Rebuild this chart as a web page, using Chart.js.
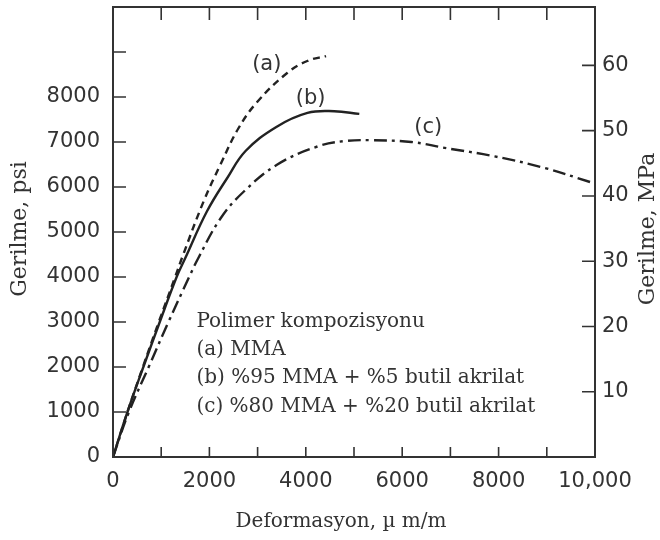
<!DOCTYPE html>
<html>
<head>
<meta charset="utf-8">
<script src="https://cdn.jsdelivr.net/npm/chart.js@4.4.1/dist/chart.umd.min.js"></script>
<style>
  body { margin: 0; background: #fff; }
  #wrap { width: 660px; height: 540px; }
</style>
</head>
<body>
<div id="wrap"><canvas id="grafico" width="660" height="540"></canvas></div>
<script>
// deformasyon (µm/m) ve gerilme (psi) okumaları
const strainA = [0, 300, 620, 950, 1290, 1440, 1880, 2230, 2600, 3000, 3620, 4030, 4420];
const stressA = [0, 1000, 2000, 3000, 4000, 4450, 5680, 6500, 7300, 7900, 8540, 8800, 8910];

const strainB = [0, 300, 630, 970, 1320, 1500, 1950, 2370, 2750, 3380, 4035, 4590, 5110];
const stressB = [0, 1000, 2000, 3000, 4000, 4420, 5460, 6200, 6800, 7330, 7646, 7684, 7624];

const strainC = [0, 330, 740, 1150, 1580, 1760, 2230, 2715, 3410, 4240, 4800, 5350, 6190, 6880, 7920, 8965, 9900];
const stressC = [0, 1000, 2000, 3000, 4000, 4400, 5300, 5900, 6500, 6900, 7020, 7040, 7000, 6870, 6680, 6420, 6110];

const curveNames = ['(a)', '(b)', '(c)'];
const legendLines = [
  'Polimer kompozisyonu',
  '(a) MMA',
  '(b) %95 MMA + %5 butil akrilat',
  '(c) %80 MMA + %20 butil akrilat'
];

const strainMinorTicks = [1000, 2000, 3000, 4000, 5000, 6000, 7000, 8000, 9000];
const psiTicks = [1000, 2000, 3000, 4000, 5000, 6000, 7000, 8000, 9000];
const mpaTicks = [10, 20, 30, 40, 50, 60];

const PSI_PER_MPA = 145.038;
const ink = '#222';

function pts(xs, ys) {
  return xs.map((x, i) => ({ x: x, y: ys[i] }));
}

const serif = '"DejaVu Serif", serif';
const sans = '"DejaVu Sans", sans-serif';

const decor = {
  id: 'decor',
  afterDraw(chart) {
    const c = chart.ctx;
    const a = chart.chartArea;
    const sx = chart.scales.x, sy = chart.scales.y, s2 = chart.scales.y2;
    c.save();
    c.strokeStyle = '#333';
    c.lineWidth = 2;
    c.strokeRect(a.left, a.top, a.right - a.left, a.bottom - a.top);

    c.lineWidth = 1.6;
    c.beginPath();
    strainMinorTicks.forEach(v => {
      const px = sx.getPixelForValue(v);
      c.moveTo(px, a.bottom); c.lineTo(px, a.bottom - 10);
      c.moveTo(px, a.top); c.lineTo(px, a.top + 13);
    });
    psiTicks.forEach(v => {
      const py = sy.getPixelForValue(v);
      c.moveTo(a.left, py); c.lineTo(a.left + 13, py);
    });
    mpaTicks.forEach(v => {
      const py = s2.getPixelForValue(v);
      c.moveTo(a.right, py); c.lineTo(a.right - 13, py);
    });
    c.stroke();

    // eğri adları
    c.fillStyle = '#333';
    c.font = '21px ' + sans;
    c.textAlign = 'center';
    c.textBaseline = 'middle';
    const namePos = [[3190, 8730], [4100, 7970], [6540, 7330]];
    curveNames.forEach((t, i) => {
      c.fillText(t, sx.getPixelForValue(namePos[i][0]), sy.getPixelForValue(namePos[i][1]));
    });

    // açıklama kutusu
    c.font = '20px ' + serif;
    c.textAlign = 'left';
    const lx = sx.getPixelForValue(1730);
    legendLines.forEach((t, i) => {
      c.fillText(t, lx, sy.getPixelForValue(3007) + i * 28.3);
    });

    // eksen başlıkları
    c.font = '20px ' + serif;
    c.textAlign = 'center';
    c.fillText('Deformasyon, \u00b5 m/m', 341, 522);
    c.font = '22px ' + serif;
    c.save();
    c.translate(20, 229);
    c.rotate(-Math.PI / 2);
    c.fillText('Gerilme, psi', 0, 0);
    c.restore();
    c.save();
    c.translate(648, 229);
    c.rotate(-Math.PI / 2);
    c.fillText('Gerilme, MPa', 0, 0);
    c.restore();
    c.restore();
  }
};

const ctx = document.getElementById('grafico').getContext('2d');

const grafico = new Chart(ctx, {
  type: 'line',
  data: {
    datasets: [
      {
        label: curveNames[0],
        data: pts(strainA, stressA),
        borderColor: ink,
        borderWidth: 2.4,
        borderDash: [7, 5],
        tension: 0.4,
        pointRadius: 0,
        fill: false
      },
      {
        label: curveNames[1],
        data: pts(strainB, stressB),
        borderColor: ink,
        borderWidth: 2.4,
        tension: 0.4,
        pointRadius: 0,
        fill: false
      },
      {
        label: curveNames[2],
        data: pts(strainC, stressC),
        borderColor: ink,
        borderWidth: 2.4,
        borderDash: [13, 5, 3, 5],
        tension: 0.4,
        pointRadius: 0,
        fill: false
      }
    ]
  },
  options: {
    responsive: false,
    animation: false,
    layout: { padding: { top: 7, left: 0, right: 0, bottom: 0 } },
    plugins: {
      legend: { display: false },
      tooltip: { enabled: false }
    },
    scales: {
      x: {
        type: 'linear',
        min: 0,
        max: 10000,
        grid: { display: false, drawTicks: false },
        border: { display: false },
        afterFit: s => { s.height = 83; },
        ticks: {
          stepSize: 2000,
          padding: 12,
          color: '#333',
          font: { family: sans, size: 21 },
          maxRotation: 0,
          callback: v => v === 10000 ? '10,000' : String(v)
        }
      },
      y: {
        position: 'left',
        min: 0,
        max: 10000,
        grid: { display: false, drawTicks: false },
        border: { display: false },
        afterFit: s => { s.width = 113; s.paddingTop = 0; s.paddingBottom = 0; },
        ticks: {
          stepSize: 1000,
          padding: 13,
          color: '#333',
          font: { family: sans, size: 21 },
          callback: v => v <= 8000 ? String(v) : null
        }
      },
      y2: {
        position: 'right',
        min: 0,
        max: 10000 / PSI_PER_MPA,
        grid: { display: false, drawTicks: false },
        border: { display: false },
        afterFit: s => { s.width = 65; s.paddingTop = 0; s.paddingBottom = 0; },
        ticks: {
          stepSize: 10,
          padding: 7,
          color: '#333',
          font: { family: sans, size: 21 },
          callback: v => (v >= 10 && v <= 60) ? String(v) : null
        }
      }
    }
  },
  plugins: [decor]
});
</script>
</body>
</html>
